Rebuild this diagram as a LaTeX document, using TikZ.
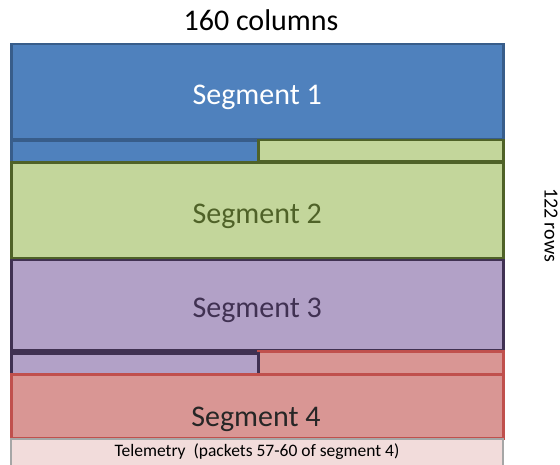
\documentclass[tikz,border=0pt]{standalone}
\usepackage{fontspec}
\setmainfont{Carlito}
\definecolor{segblue}{HTML}{4F81BD}
\definecolor{segblueline}{HTML}{385D8A}
\definecolor{seggreen}{HTML}{C3D69B}
\definecolor{seggreenline}{HTML}{4F6228}
\definecolor{segpurple}{HTML}{B2A1C7}
\definecolor{segpurpleline}{HTML}{403152}
\definecolor{segred}{HTML}{D99694}
\definecolor{segredline}{HTML}{C0504D}
\definecolor{telefill}{HTML}{F2DCDB}
\definecolor{teleline}{HTML}{A6A6A6}
\tikzset{
  segbox/.style={draw, line width=2.5pt, minimum width=492pt, inner sep=0pt,
    anchor=north west, text height=25pt, text depth=0pt,
    font=\fontsize{30}{30}\selectfont},
  halfbox/.style={draw, line width=2.5pt, inner sep=0pt, minimum height=21pt,
    anchor=north west},
}
\begin{document}
\begin{tikzpicture}[x=1pt, y=-1pt]
        \useasboundingbox (0,0) rectangle (560,465);
        \node[font=\fontsize{30}{30}\selectfont] (cols) at (261,20) {160 columns};
        \node[rotate=-90, font=\fontsize{20}{20}\selectfont] (rows) at (551,225) {122 rows};
        % segments
        \node[segbox, fill=segblue, draw=segblueline, text=white, minimum height=95.5pt] (seg1) at (10,43) {Segment 1};
        \node[halfbox, fill=segblue, draw=segblueline, minimum width=247pt] (seg1tail) at (10,140) {};
        \node[halfbox, fill=seggreen, draw=seggreenline, minimum width=245pt] (seg2head) at (257,139) {};
        \node[segbox, fill=seggreen, draw=seggreenline, text=seggreenline, minimum height=96pt] (seg2) at (10,161.5) {Segment 2};
        \node[segbox, fill=segpurple, draw=segpurpleline, text=segpurpleline, minimum height=90pt] (seg3) at (10,259) {Segment 3};
        \node[halfbox, fill=segred, draw=segredline, minimum width=245pt, minimum height=23pt] (seg4head) at (257,350) {};
        \node[halfbox, fill=segpurple, draw=segpurpleline, minimum width=247pt] (seg3tail) at (10,352) {};
        \node[segbox, fill=segred, draw=segredline, minimum height=64pt] (seg4) at (10,373) {};
        \node[font=\fontsize{30}{30}\selectfont, text=black!85, anchor=base] (seg4text) at (256,426.5) {Segment 4};
        % telemetry
        \node[draw=teleline, fill=telefill, line width=2pt, minimum width=492pt, minimum height=27pt,
          inner sep=0pt, anchor=north west, font=\fontsize{17.5}{17.5}\selectfont] (tele) at (10,437.5) {Telemetry~ (packets 57-60 of segment 4)};
    \end{tikzpicture}
\end{document}
